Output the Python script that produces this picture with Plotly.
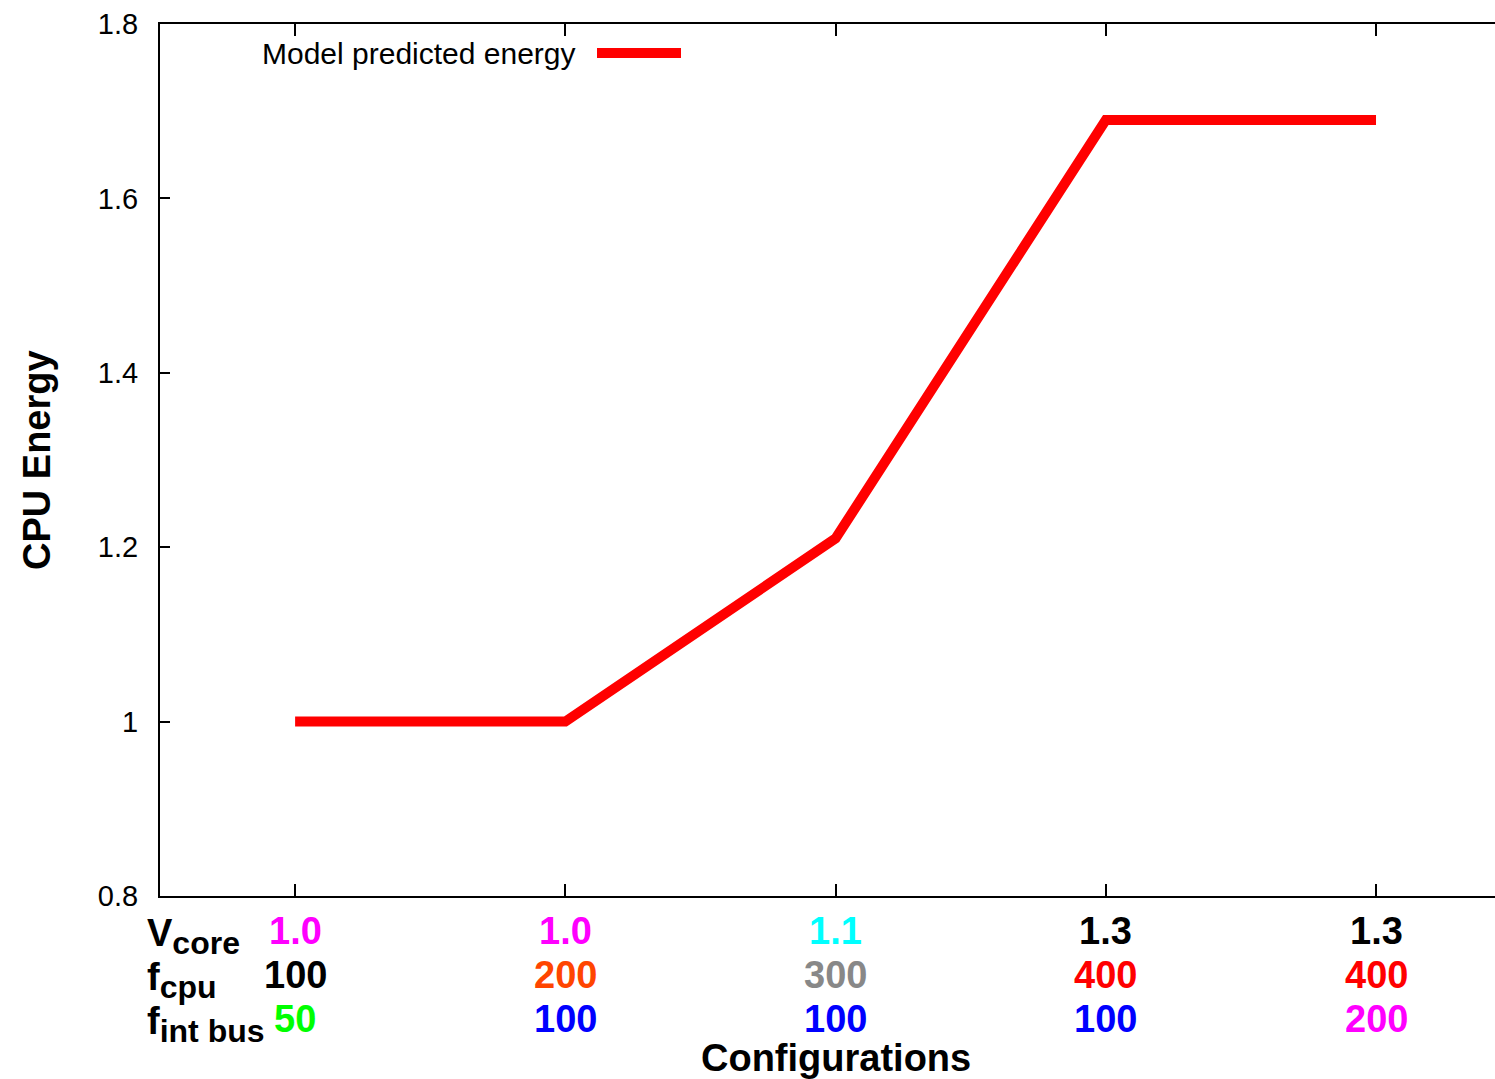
import plotly.graph_objects as go

# Configuration index along the x axis
configs = [1, 2, 3, 4, 5]
energy = [1.0, 1.0, 1.21, 1.69, 1.69]

# Per-configuration settings shown under the axis
vcore = ["1.0", "1.0", "1.1", "1.3", "1.3"]
vcore_colors = ["#ff00ff", "#ff00ff", "#00ffff", "#000000", "#000000"]
fcpu = ["100", "200", "300", "400", "400"]
fcpu_colors = ["#000000", "#ff4500", "#888888", "#ff0000", "#ff0000"]
fbus = ["50", "100", "100", "100", "200"]
fbus_colors = ["#00ff00", "#0000ff", "#0000ff", "#0000ff", "#ff00ff"]

row_main = ["V", "f", "f"]
row_sub = ["core", "cpu", "int bus"]
y_ticks = [0.8, 1.0, 1.2, 1.4, 1.6, 1.8]
y_tick_text = ["0.8", "1", "1.2", "1.4", "1.6", "1.8"]

FONT = "Liberation Sans, Arial, sans-serif"
W, H = 1495, 1079
ML, MR, MT, MB = 160, 0, 24, 183
PW, PH = W - ML - MR, H - MT - MB


def px_x(px):
    return (px - ML) / PW


def px_y(py):
    return (H - MB - py) / PH


fig = go.Figure()
fig.add_trace(go.Scatter(
    x=configs, y=energy, mode="lines",
    line=dict(color="#ff0000", width=10),
    name="Model predicted energy", showlegend=False,
))

annotations = []
rows = [(vcore, vcore_colors, 931), (fcpu, fcpu_colors, 975), (fbus, fbus_colors, 1019)]
for values, colors, py in rows:
    for xi, v, c in zip(configs, values, colors):
        annotations.append(dict(
            x=xi, y=px_y(py), xref="x", yref="paper", text=f"<b>{v}</b>",
            showarrow=False, xanchor="center", yanchor="middle",
            font=dict(family=FONT, size=38, color=c),
        ))

for main, sub, py in zip(row_main, row_sub, [936, 980, 1024]):
    label = f"<b>{main}<sub><span style='font-size:32px'>{sub}</span></sub></b>"
    annotations.append(dict(
        x=px_x(145), y=px_y(py), xref="paper", yref="paper", text=label,
        showarrow=False, xanchor="left", yanchor="middle",
        font=dict(family=FONT, size=38, color="#000000"),
    ))

annotations.append(dict(
    x=3, y=px_y(1058), xref="x", yref="paper", text="<b>Configurations</b>",
    showarrow=False, xanchor="center", yanchor="middle",
    font=dict(family=FONT, size=38, color="#000000"),
))
annotations.append(dict(
    x=px_x(37), y=0.5, xref="paper", yref="paper", text="<b>CPU Energy</b>",
    showarrow=False, xanchor="center", yanchor="middle", textangle=-90,
    font=dict(family=FONT, size=38, color="#000000"),
))

# Key: label with the line sample to its right
annotations.append(dict(
    x=px_x(578), y=px_y(53), xref="paper", yref="paper", text="Model predicted energy",
    showarrow=False, xanchor="right", yanchor="middle",
    font=dict(family=FONT, size=30, color="#000000"),
))
shapes = [dict(
    type="line", xref="paper", yref="paper",
    x0=px_x(597), x1=px_x(681), y0=px_y(53), y1=px_y(53),
    line=dict(color="#ff0000", width=10),
)]

fig.update_layout(
    width=W, height=H,
    margin=dict(l=ML, r=MR, t=MT, b=MB),
    paper_bgcolor="white", plot_bgcolor="white",
    showlegend=False,
    annotations=annotations, shapes=shapes,
    xaxis=dict(
        range=[0.5, 1 + (W - 295) / 270.25], tickvals=configs, showticklabels=False,
        ticks="inside", ticklen=12, tickwidth=2, tickcolor="black",
        showline=True, linewidth=2, linecolor="black", mirror="ticks",
        showgrid=False, zeroline=False,
    ),
    yaxis=dict(
        range=[0.8, 1.8], tickvals=y_ticks, ticktext=y_tick_text,
        ticks="inside", ticklen=10, tickwidth=2, tickcolor="black",
        showline=True, linewidth=2, linecolor="black",
        showgrid=False, zeroline=False,
        tickfont=dict(family=FONT, size=29, color="black"),
        ticklabelstandoff=14,
    ),
)

fig.write_html("out.html")
